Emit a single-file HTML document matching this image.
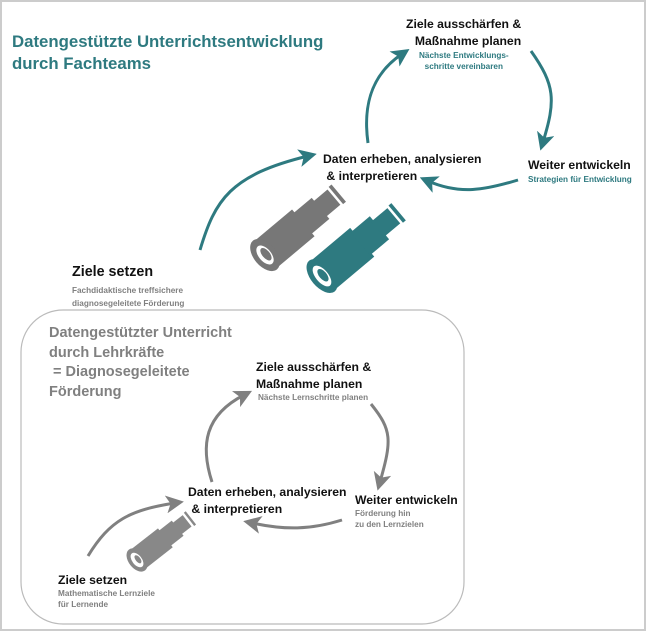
<!DOCTYPE html>
<html><head><meta charset="utf-8"><style>
body{margin:0;background:#fff;}
#c{position:relative;width:647px;height:632px;overflow:hidden;font-family:"Liberation Sans",sans-serif;}
.t{position:absolute;white-space:nowrap;font-weight:bold;}
.b{color:#111;font-size:12.2px;line-height:17px;}
.s{font-size:8.2px;line-height:11px;}
.teal{color:#2e7a80}.gray{color:#808080}
</style></head><body><div id="c">
<svg width="647" height="632" style="position:absolute;left:0;top:0">
<defs>
<marker id="at" markerWidth="6" markerHeight="6" refX="3" refY="3" orient="auto" markerUnits="strokeWidth"><path d="M0,0L6,3L0,6L1.5,3z" fill="#2e7a80"/></marker>
<marker id="ag" markerWidth="6" markerHeight="6" refX="3" refY="3" orient="auto" markerUnits="strokeWidth"><path d="M0,0L6,3L0,6L1.5,3z" fill="#808080"/></marker>
</defs>
<rect x="1" y="1" width="644" height="629" fill="none" stroke="#ccc" stroke-width="2"/>
<rect x="21" y="310" width="443" height="314" rx="42" fill="none" stroke="#bbb" stroke-width="1.2"/>
<g fill="none" stroke="#2e7a80" stroke-width="3">
<path d="M200,250 C215,200 230,175 308,156" marker-end="url(#at)"/>
<path d="M368,143 C362,100 375,72 402,54" marker-end="url(#at)"/>
<path d="M531,51 C555,85 556,100 543,142" marker-end="url(#at)"/>
<path d="M518,180 C485,190 460,195 428,181" marker-end="url(#at)"/>
</g>
<g fill="none" stroke="#808080" stroke-width="3">
<path d="M88,556 C110,520 130,510 175,503" marker-end="url(#ag)"/>
<path d="M212,482 C200,445 205,415 244,395" marker-end="url(#ag)"/>
<path d="M371,404 C392,430 392,440 380,482" marker-end="url(#ag)"/>
<path d="M342,520 C310,530 285,530 252,523" marker-end="url(#ag)"/>
</g>
<g transform="translate(265,255) rotate(-40) scale(1.25)">
<rect x="0" y="-14" width="40" height="28" fill="#777"/><rect x="38" y="-11" width="20" height="22" fill="#777"/><rect x="56" y="-8" width="16" height="16" fill="#777"/>
<ellipse cx="0" cy="0" rx="9" ry="15" fill="#777"/><ellipse cx="0" cy="0" rx="5" ry="9" fill="#fff"/><ellipse cx="1" cy="0" rx="3" ry="6" fill="#777"/>
<rect x="74" y="-9" width="3" height="18" fill="#777"/>
</g>
<g transform="translate(322,276) rotate(-40) scale(1.25)">
<rect x="0" y="-15" width="42" height="30" fill="#2e7a80"/><rect x="40" y="-12" width="20" height="24" fill="#2e7a80"/><rect x="58" y="-8" width="17" height="16" fill="#2e7a80"/>
<ellipse cx="0" cy="0" rx="9" ry="16" fill="#2e7a80"/><ellipse cx="0" cy="0" rx="5" ry="10" fill="#fff"/><ellipse cx="1" cy="0" rx="3" ry="6" fill="#2e7a80"/>
<rect x="77" y="-9" width="3" height="18" fill="#2e7a80"/>
</g>
<g transform="translate(137,560) rotate(-38) scale(1.2)">
<rect x="0" y="-10" width="30" height="20" fill="#888"/><rect x="28" y="-8" width="15" height="16" fill="#888"/><rect x="41" y="-6" width="12" height="12" fill="#888"/>
<ellipse cx="0" cy="0" rx="7" ry="11" fill="#888"/><ellipse cx="0" cy="0" rx="4" ry="7" fill="#fff"/><ellipse cx="1" cy="0" rx="2" ry="4" fill="#888"/>
<rect x="55" y="-7" width="2" height="14" fill="#888"/>
</g>
</svg>
<div class="t teal" style="left:12px;top:31px;font-size:16.8px;line-height:22px">Datengestützte Unterrichtsentwicklung<br>durch Fachteams</div>
<div class="t b" style="left:406px;top:16px;text-align:right">Ziele ausschärfen &amp;<br>Maßnahme planen</div>
<div class="t s teal" style="left:419px;top:50px;text-align:center">Nächste Entwicklungs-<br>schritte vereinbaren</div>
<div class="t b" style="left:323px;top:151px">Daten erheben, analysieren<br>&nbsp;&amp; interpretieren</div>
<div class="t b" style="left:528px;top:157px">Weiter entwickeln</div>
<div class="t s teal" style="left:528px;top:174px">Strategien für Entwicklung</div>
<div class="t" style="left:72px;top:264px;font-size:14.3px;color:#111">Ziele setzen</div>
<div class="t s gray" style="left:72px;top:284px;line-height:13px">Fachdidaktische treffsichere<br>diagnosegeleitete Förderung</div>
<div class="t gray" style="left:49px;top:324px;font-size:14.5px;line-height:19.5px">Datengestützter Unterricht<br>durch Lehrkräfte<br>&nbsp;= Diagnosegeleitete<br>Förderung</div>
<div class="t b" style="left:256px;top:359px">Ziele ausschärfen &amp;<br>Maßnahme planen</div>
<div class="t s gray" style="left:258px;top:392px">Nächste Lernschritte planen</div>
<div class="t b" style="left:188px;top:484px">Daten erheben, analysieren<br>&nbsp;&amp; interpretieren</div>
<div class="t b" style="left:355px;top:492px">Weiter entwickeln</div>
<div class="t s gray" style="left:355px;top:508px">Förderung hin<br>zu den Lernzielen</div>
<div class="t b" style="left:58px;top:572px">Ziele setzen</div>
<div class="t s gray" style="left:58px;top:588px">Mathematische Lernziele<br>für Lernende</div>
</div></body></html>
